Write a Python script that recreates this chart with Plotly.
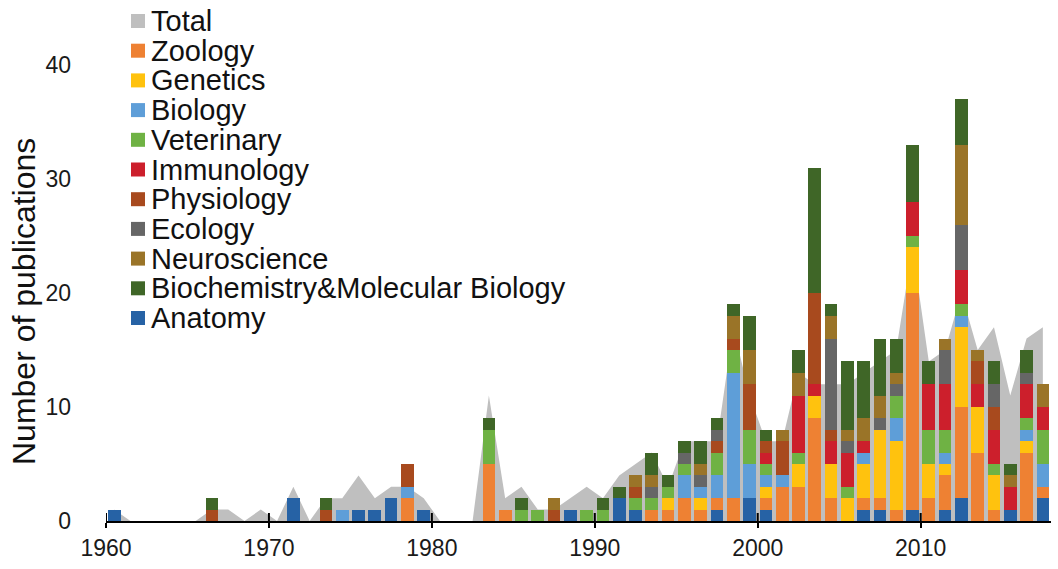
import plotly.graph_objects as go

# ---------------- data ----------------
years = list(range(1960, 2018))

total = [1, 0, 0, 0, 0, 0, 1, 1, 0, 1,
         0, 3, 0, 2, 2, 4, 2, 3, 3, 2,
         0, 0, 0, 11, 2, 3, 1, 1, 2, 3,
         2, 4, 5, 6, 3, 7, 7, 7, 17, 11,
         7, 7, 13, 12, 12, 12, 13, 14, 15, 24,
         14, 15, 20, 15, 17, 11, 16, 17]

anatomy = [1, 0, 0, 0, 0, 0, 0, 0, 0, 0,
           0, 2, 0, 0, 0, 1, 1, 2, 0, 1,
           0, 0, 0, 0, 0, 0, 0, 0, 1, 0,
           0, 2, 1, 0, 0, 0, 0, 1, 0, 2,
           1, 0, 0, 0, 0, 0, 1, 1, 0, 1,
           0, 1, 2, 0, 0, 1, 0, 2]

zoology = [0, 0, 0, 0, 0, 0, 0, 0, 0, 0,
           0, 0, 0, 0, 0, 0, 0, 0, 2, 0,
           0, 0, 0, 5, 1, 0, 0, 0, 0, 0,
           0, 0, 0, 1, 1, 2, 1, 1, 2, 0,
           1, 3, 3, 9, 2, 0, 1, 1, 1, 19,
           2, 3, 8, 6, 1, 0, 6, 1]

genetics = [0, 0, 0, 0, 0, 0, 0, 0, 0, 0,
            0, 0, 0, 0, 0, 0, 0, 0, 0, 0,
            0, 0, 0, 0, 0, 0, 0, 0, 0, 0,
            0, 0, 0, 0, 1, 0, 1, 0, 0, 0,
            1, 0, 2, 2, 3, 2, 3, 6, 6, 4,
            3, 1, 7, 4, 3, 0, 1, 0]

biology = [0, 0, 0, 0, 0, 0, 0, 0, 0, 0,
           0, 0, 0, 0, 1, 0, 0, 0, 1, 0,
           0, 0, 0, 0, 0, 0, 0, 0, 0, 0,
           0, 0, 0, 0, 0, 2, 1, 2, 11, 3,
           1, 1, 0, 0, 0, 0, 1, 0, 2, 0,
           0, 1, 1, 0, 0, 0, 1, 2]

veterinary = [0, 0, 0, 0, 0, 0, 0, 0, 0, 0,
              0, 0, 0, 0, 0, 0, 0, 0, 0, 0,
              0, 0, 0, 3, 0, 1, 1, 0, 0, 1,
              1, 0, 1, 1, 1, 1, 0, 2, 2, 3,
              1, 0, 1, 0, 0, 1, 0, 0, 2, 1,
              3, 2, 1, 0, 1, 0, 1, 3]

immunology = [0, 0, 0, 0, 0, 0, 0, 0, 0, 0,
              0, 0, 0, 0, 0, 0, 0, 0, 0, 0,
              0, 0, 0, 0, 0, 0, 0, 0, 0, 0,
              0, 0, 0, 0, 0, 0, 0, 0, 0, 0,
              1, 0, 5, 1, 2, 3, 1, 0, 0, 3,
              4, 4, 3, 2, 3, 2, 3, 2]

physiology = [0, 0, 0, 0, 0, 0, 1, 0, 0, 0,
              0, 0, 0, 1, 0, 0, 0, 0, 2, 0,
              0, 0, 0, 0, 0, 0, 0, 1, 0, 0,
              0, 0, 1, 0, 0, 0, 0, 1, 1, 4,
              1, 3, 0, 8, 1, 0, 0, 0, 0, 0,
              0, 0, 0, 2, 2, 0, 0, 0]

ecology = [0, 0, 0, 0, 0, 0, 0, 0, 0, 0,
           0, 0, 0, 0, 0, 0, 0, 0, 0, 0,
           0, 0, 0, 0, 0, 0, 0, 0, 0, 0,
           0, 0, 0, 1, 0, 1, 1, 1, 0, 0,
           0, 0, 0, 0, 8, 1, 0, 1, 1, 0,
           0, 3, 4, 0, 2, 0, 1, 0]

neuroscience = [0, 0, 0, 0, 0, 0, 0, 0, 0, 0,
                0, 0, 0, 0, 0, 0, 0, 0, 0, 0,
                0, 0, 0, 0, 0, 0, 0, 1, 0, 0,
                0, 0, 1, 1, 0, 0, 1, 0, 2, 3,
                0, 1, 2, 0, 2, 1, 2, 2, 1, 0,
                0, 1, 7, 1, 0, 1, 0, 2]

biochem = [0, 0, 0, 0, 0, 0, 1, 0, 0, 0,
           0, 0, 0, 1, 0, 0, 0, 0, 0, 0,
           0, 0, 0, 1, 0, 1, 0, 0, 0, 0,
           1, 1, 0, 2, 1, 1, 2, 1, 1, 3,
           1, 0, 2, 11, 1, 6, 5, 5, 3, 5,
           2, 0, 4, 0, 2, 1, 2, 0]

x_tick_values = [1960, 1970, 1980, 1990, 2000, 2010]
y_tick_values = [0, 10, 20, 30, 40]

# stacking order (bottom -> top)
stack = [
    ("Anatomy", anatomy, "#2662A5"),
    ("Zoology", zoology, "#EE8133"),
    ("Genetics", genetics, "#FFC20E"),
    ("Biology", biology, "#5E9ED8"),
    ("Veterinary", veterinary, "#6FB244"),
    ("Immunology", immunology, "#CC1F2C"),
    ("Physiology", physiology, "#A84A1E"),
    ("Ecology", ecology, "#666666"),
    ("Neuroscience", neuroscience, "#9A7428"),
    ("Biochemistry&Molecular Biology", biochem, "#3F6627"),
]
total_color = "#BFBFBF"
legend_order = ["Total", "Zoology", "Genetics", "Biology", "Veterinary", "Immunology",
                "Physiology", "Ecology", "Neuroscience",
                "Biochemistry&Molecular Biology", "Anatomy"]

# ---------------- figure ----------------
W, H = 1058, 569
ML, MR, MT, MB = 106, 7, 16, 48
PW, PH = W - ML - MR, H - MT - MB
FONT = "Liberation Sans, Arial, sans-serif"
Y_MAX = PH / 11.4

xc = [y + 0.5 for y in years]  # bars centred in each year band

fig = go.Figure()
# Total area on the base axes (drawn underneath)
fig.add_trace(go.Scatter(
    x=xc, y=total, mode="lines", name="Total",
    line=dict(width=0, color=total_color),
    fill="tozeroy", fillcolor=total_color, showlegend=False, hoverinfo="skip",
    xaxis="x", yaxis="y"))

# stacked bars on overlaying axes (drawn on top of the area)
for name, vals, color in stack:
    fig.add_trace(go.Bar(
        x=xc, y=vals, name=name, width=0.78,
        marker=dict(color=color, line=dict(width=0)), showlegend=False,
        xaxis="x2", yaxis="y2"))

fig.update_layout(
    width=W, height=H, autosize=False,
    margin=dict(l=ML, r=MR, t=MT, b=MB, pad=0, autoexpand=False),
    paper_bgcolor="white", plot_bgcolor="white",
    barmode="stack", showlegend=False,
    font=dict(family=FONT, color="#1a1a1a"),
    xaxis=dict(range=[1960, 2018], tickvals=x_tick_values, ticks="outside",
               ticklen=5, tickwidth=2, tickcolor="black",
               showline=True, linecolor="black", linewidth=2, automargin=False,
               showgrid=False, zeroline=False, tickfont=dict(size=23)),
    yaxis=dict(range=[0, Y_MAX], tickvals=y_tick_values, ticks="",
               showline=False, showgrid=False, zeroline=False, automargin=False,
               ticklabelstandoff=34, tickfont=dict(size=23)),
    xaxis2=dict(range=[1960, 2018], overlaying="x", anchor="y2", visible=False,
                showgrid=False, zeroline=False),
    yaxis2=dict(range=[0, Y_MAX], overlaying="y", anchor="x2", visible=False,
                showgrid=False, zeroline=False),
)

# upper part of the crossing tick marks
for tv in x_tick_values:
    fig.add_shape(type="line", xref="x", yref="paper", x0=tv, x1=tv,
                  ysizemode="pixel", yanchor=0, y0=0, y1=8,
                  line=dict(color="black", width=2))


def px_x(px):
    return (px - ML) / PW


def px_y(py):
    return (H - MB - py) / PH


colors = {n: c for n, _, c in stack}
colors["Total"] = total_color
row0, step = 21, 29.7
for i, name in enumerate(legend_order):
    yc = row0 + step * i
    fig.add_shape(type="rect", xref="paper", yref="paper",
                  x0=px_x(131), x1=px_x(145), y0=px_y(yc + 7), y1=px_y(yc - 7),
                  fillcolor=colors[name], line=dict(width=0))
    fig.add_annotation(xref="paper", yref="paper", x=px_x(149), y=px_y(yc),
                       xanchor="left", yanchor="middle", showarrow=False,
                       text=name, font=dict(size=29, family=FONT, color="#111111"))

fig.add_annotation(xref="paper", yref="paper", x=px_x(24), y=px_y(302),
                   xanchor="center", yanchor="middle", showarrow=False,
                   textangle=-90, text="Number of publications",
                   font=dict(size=32, family=FONT, color="#111111"))

fig.write_html(
    "out.html",
    config={"displayModeBar": False},
    post_script="document.body.style.margin='0px';document.body.style.overflow='hidden';",
)
